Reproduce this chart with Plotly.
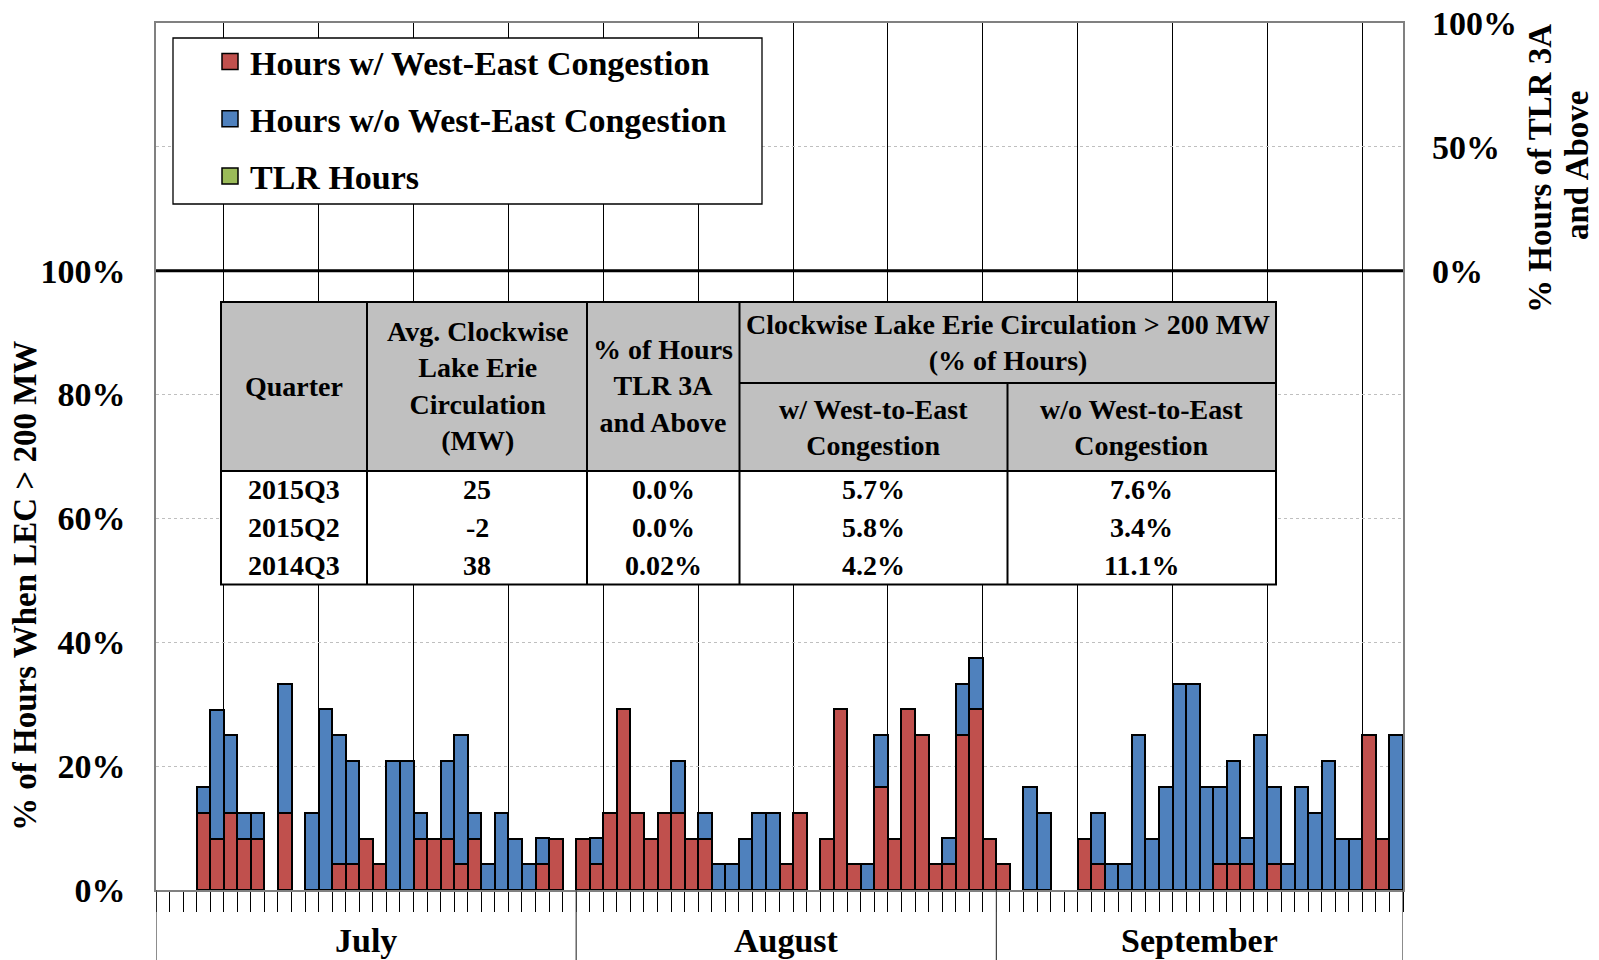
import plotly.graph_objects as go

# ---------------- data ----------------
months = ["July", "August", "September"]
days_in_month = [31, 31, 30]

# % of hours per day with clockwise Lake Erie circulation > 200 MW
with_cong_jul = [0, 0, 0, 12.5, 8.3, 12.5, 8.3, 8.3, 0, 12.5, 0, 0, 0, 4.2, 4.2, 8.3, 4.2, 0, 0, 8.3, 8.3, 8.3, 4.2, 8.3, 0, 0, 0, 0, 4.2, 8.3, 0]
with_cong_aug = [8.3, 4.2, 12.5, 29.2, 12.5, 8.3, 12.5, 12.5, 8.3, 8.3, 0, 0, 0, 0, 0, 4.2, 12.5, 0, 8.3, 29.2, 4.2, 0, 16.7, 8.3, 29.2, 25.0, 4.2, 4.2, 25.0, 29.2, 8.3]
with_cong_sep = [4.2, 0, 0, 0, 0, 0, 8.3, 4.2, 0, 0, 0, 0, 0, 0, 0, 0, 4.2, 4.2, 4.2, 0, 4.2, 0, 0, 0, 0, 0, 0, 25.0, 8.3, 0]

without_cong_jul = [0, 0, 0, 4.2, 20.8, 12.5, 4.2, 4.2, 0, 20.8, 0, 12.5, 29.2, 20.8, 16.7, 0, 0, 20.8, 20.8, 4.2, 0, 12.5, 20.8, 4.2, 4.2, 12.5, 8.3, 4.2, 4.2, 0, 0]
without_cong_aug = [0, 4.2, 0, 0, 0, 0, 0, 8.3, 0, 4.2, 4.2, 4.2, 8.3, 12.5, 12.5, 0, 0, 0, 0, 0, 0, 4.2, 8.3, 0, 0, 0, 0, 4.2, 8.3, 8.3, 0]
without_cong_sep = [0, 0, 16.7, 12.5, 0, 0, 0, 8.3, 4.2, 4.2, 25.0, 8.3, 16.7, 33.3, 33.3, 16.7, 12.5, 16.7, 4.2, 25.0, 12.5, 4.2, 16.7, 12.5, 20.8, 8.3, 8.3, 0, 0, 25.0]

tlr_jul = [0] * 31
tlr_aug = [0] * 31
tlr_sep = [0] * 30

series_names = ["Hours w/ West-East Congestion", "Hours w/o West-East Congestion", "TLR Hours"]

left_ticks = [0, 20, 40, 60, 80, 100]
left_ticktext = ["0%", "20%", "40%", "60%", "80%", "100%"]
right_ticks = [0, 50, 100]
right_ticktext = ["0%", "50%", "100%"]

# summary table
tbl_quarter = ["2015Q3", "2015Q2", "2014Q3"]
tbl_avg_circ = ["25", "-2", "38"]
tbl_tlr = ["0.0%", "0.0%", "0.02%"]
tbl_with = ["5.7%", "5.8%", "4.2%"]
tbl_without = ["7.6%", "3.4%", "11.1%"]

# ---------------- build ----------------
with_cong = with_cong_jul + with_cong_aug + with_cong_sep
without_cong = without_cong_jul + without_cong_aug + without_cong_sep
tlr = tlr_jul + tlr_aug + tlr_sep
ndays = len(with_cong)
x = list(range(ndays))


def nz(v):
    return [a if a else None for a in v]


RED, BLUE, GREEN = "#C0504D", "#4F81BD", "#9BBB59"
colors = [RED, BLUE, GREEN]
FONT = "Liberation Serif"
FS = 34

L, T, W, H = 156, 23, 1247, 867
B = T + H


def px(v):
    return (v - L) / W


def py(v):
    return (B - v) / H


fig = go.Figure()
fig.add_trace(go.Bar(x=x, y=nz(with_cong), name=series_names[0], showlegend=False,
                     marker=dict(color=RED, line=dict(color="black", width=2)),
                     legendgroup="a"))
fig.add_trace(go.Bar(x=x, y=nz(without_cong), name=series_names[1], showlegend=False,
                     marker=dict(color=BLUE, line=dict(color="black", width=2)),
                     legendgroup="b"))
fig.add_trace(go.Bar(x=x, y=nz(tlr), name=series_names[2], yaxis="y2", showlegend=False,
                     marker=dict(color=GREEN, line=dict(color="black", width=2)),
                     legendgroup="c"))
# legend entries (square swatches like the original)
for nm, col, grp in zip(series_names, colors, ["a", "b", "c"]):
    fig.add_trace(go.Scatter(x=[None], y=[None], mode="markers", name=nm, legendgroup=grp,
                             marker=dict(symbol="square", size=16, color=col,
                                         line=dict(color="black", width=1.5))))

# month boundaries
bounds = [-0.5]
for d in days_in_month:
    bounds.append(bounds[-1] + d)
week_lines = [v - 0.5 for v in range(5, ndays, 7)]

shapes = []
# 100% divider line
shapes.append(dict(type="line", xref="paper", x0=0, x1=1, yref="y", y0=100, y1=100,
                   line=dict(color="black", width=3), layer="above"))
# month separators below axis
for b in bounds:
    shapes.append(dict(type="line", xref="x", x0=b, x1=b, yref="paper", y0=0, y1=-0.1,
                       line=dict(color="#404040", width=1.2)))

# legend box
shapes.append(dict(type="rect", xref="paper", yref="paper",
                   x0=px(173), x1=px(762), y0=py(204), y1=py(38),
                   fillcolor="white", line=dict(color="black", width=1.3), layer="above"))

# table
tx = [221, 367, 587, 739.5, 1007.5, 1276]
ty_top, ty_sub, ty_head, ty_bot = 302, 383, 471, 584.5
shapes.append(dict(type="rect", xref="paper", yref="paper", x0=px(tx[0]), x1=px(tx[-1]),
                   y0=py(ty_head), y1=py(ty_top), fillcolor="#C0C0C0", line=dict(width=0), layer="above"))
shapes.append(dict(type="rect", xref="paper", yref="paper", x0=px(tx[0]), x1=px(tx[-1]),
                   y0=py(ty_bot), y1=py(ty_head), fillcolor="white", line=dict(width=0), layer="above"))
shapes.append(dict(type="rect", xref="paper", yref="paper", x0=px(tx[0]), x1=px(tx[-1]),
                   y0=py(ty_bot), y1=py(ty_top), line=dict(color="black", width=2), layer="above"))
shapes.append(dict(type="line", xref="paper", yref="paper", x0=px(tx[0]), x1=px(tx[-1]),
                   y0=py(ty_head), y1=py(ty_head), line=dict(color="black", width=2), layer="above"))
shapes.append(dict(type="line", xref="paper", yref="paper", x0=px(tx[3]), x1=px(tx[-1]),
                   y0=py(ty_sub), y1=py(ty_sub), line=dict(color="black", width=2), layer="above"))
for cx in tx[1:4]:
    shapes.append(dict(type="line", xref="paper", yref="paper", x0=px(cx), x1=px(cx),
                       y0=py(ty_bot), y1=py(ty_top), line=dict(color="black", width=2), layer="above"))
shapes.append(dict(type="line", xref="paper", yref="paper", x0=px(tx[4]), x1=px(tx[4]),
                   y0=py(ty_bot), y1=py(ty_sub), line=dict(color="black", width=2), layer="above"))

annotations = []
TF = dict(family=FONT, size=28, color="black", weight="bold")


def tann(text, xc, yc):
    annotations.append(dict(text=text, xref="paper", yref="paper", x=px(xc), y=py(yc),
                            xanchor="center", yanchor="middle", showarrow=False, font=TF,
                            align="center"))


cc = [(tx[i] + tx[i + 1]) / 2 for i in range(5)]
hm = (ty_top + ty_head) / 2
tann("Quarter", cc[0], hm)
tann("Avg. Clockwise<br>Lake Erie<br>Circulation<br>(MW)", cc[1], hm)
tann("% of Hours<br>TLR 3A<br>and Above", cc[2], hm)
tann("Clockwise Lake Erie Circulation > 200 MW<br>(% of Hours)", (tx[3] + tx[5]) / 2, (ty_top + ty_sub) / 2)
tann("w/ West-to-East<br>Congestion", cc[3], (ty_sub + ty_head) / 2)
tann("w/o West-to-East<br>Congestion", cc[4], (ty_sub + ty_head) / 2)
rh = (ty_bot - ty_head) / 3
for i in range(3):
    yc = ty_head + rh * (i + 0.5)
    for j, col in enumerate([tbl_quarter, tbl_avg_circ, tbl_tlr, tbl_with, tbl_without]):
        tann(col[i], cc[j], yc)

BF = dict(family=FONT, size=FS, color="black", weight="bold")
TTF = dict(family=FONT, size=33, color="black", weight="bold")
# month labels
for i, m in enumerate(months):
    annotations.append(dict(text=m, xref="x", yref="paper", x=(bounds[i] + bounds[i + 1]) / 2,
                            y=py(940), xanchor="center", yanchor="middle", showarrow=False,
                            font=BF))

# axis titles
annotations.append(dict(text="% of Hours When LEC > 200 MW", xref="paper", yref="paper",
                        x=px(25), y=py(586), xanchor="center", yanchor="middle", textangle=-90,
                        showarrow=False, font=TTF))
annotations.append(dict(text="% Hours of TLR 3A", xref="paper", yref="paper",
                        x=px(1540), y=py(169), xanchor="center", yanchor="middle", textangle=-90,
                        showarrow=False, font=TTF))
annotations.append(dict(text="and Above", xref="paper", yref="paper",
                        x=px(1577), y=py(166), xanchor="center", yanchor="middle", textangle=-90,
                        showarrow=False, font=TTF))

fig.update_layout(
    width=1599, height=960,
    margin=dict(l=L, r=1599 - L - W, t=T, b=960 - B, autoexpand=False),
    paper_bgcolor="white", plot_bgcolor="white",
    barmode="stack", bargap=0,
    font=BF,
    showlegend=True,
    legend=dict(x=px(210), y=py(33), xanchor="left", yanchor="top",
                bgcolor="rgba(0,0,0,0)", borderwidth=0, traceorder="grouped",
                itemsizing="trace",
                tracegroupgap=10, font=BF),
    xaxis=dict(range=[-0.5, ndays - 0.5], tickvals=week_lines, showticklabels=False,
               ticks="outside", ticklen=20, tickcolor="black", tickwidth=1, automargin=False,
               showgrid=True, gridcolor="black", gridwidth=1,
               showline=True, linecolor="#808080", linewidth=1.5, mirror=True, zeroline=False,
               minor=dict(tick0=-0.5, dtick=1, ticks="outside", ticklen=20, tickcolor="black",
                          tickwidth=1, showgrid=False)),
    yaxis=dict(range=[0, 140], tickvals=left_ticks, ticktext=left_ticktext, automargin=False,
               showgrid=True, gridcolor="#BFBFBF", griddash="dot", gridwidth=1,
               zeroline=False, showline=True, linecolor="#808080", linewidth=1.5, mirror=True,
               ticks="", ticklabelstandoff=22, tickfont=BF),
    yaxis2=dict(range=[-250, 100], overlaying="y", side="right", tickvals=right_ticks,
                ticktext=right_ticktext, showgrid=True, gridcolor="#BFBFBF", griddash="dot",
                automargin=False,
                zeroline=False, showline=False, ticks="", ticklabelstandoff=28, tickfont=BF),
    shapes=shapes, annotations=annotations,
)

fig.write_html("out.html", config={"displayModeBar": False},
               post_script="document.body.style.margin='0';document.body.style.overflow='hidden';")
